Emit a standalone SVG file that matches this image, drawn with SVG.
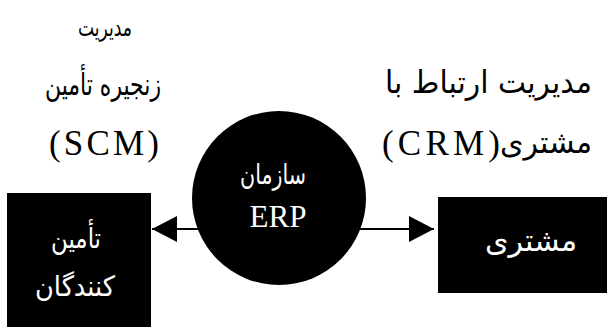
<svg xmlns="http://www.w3.org/2000/svg" width="607" height="327" viewBox="0 0 607 327">
<style>
.fa{font-family:"DejaVu Sans",sans-serif;}
.lat{font-family:"Liberation Serif",serif;}
.lbl{fill:#000;}
.in{fill:#fff;}
.node{fill:#000;}
.conn{stroke:#000;stroke-width:2;fill:none;}
</style>
<defs>
<marker id="ah" markerUnits="userSpaceOnUse" viewBox="0 0 25 26" refX="25" refY="13" markerWidth="25" markerHeight="26" orient="auto">
<path d="M0,0 L25,13 L0,26 z" fill="#000"/>
</marker>
</defs>
<rect width="607" height="327" fill="#fff"/>
<g id="labels">
<text class="fa lbl" x="105" y="36" font-size="25" text-anchor="middle" direction="rtl" textLength="54" lengthAdjust="spacingAndGlyphs">مدیریت</text>
<text class="fa lbl" x="103" y="95" font-size="30" text-anchor="middle" direction="rtl" textLength="116" lengthAdjust="spacingAndGlyphs">زنجیره تأمین</text>
<text class="lat lbl" x="104" y="155" font-size="35" textLength="110" lengthAdjust="spacing" text-anchor="middle">(SCM)</text>
<text class="fa lbl" x="592" y="93" font-size="31" text-anchor="start" direction="rtl" textLength="207" lengthAdjust="spacingAndGlyphs">مدیریت ارتباط با</text>
<text class="fa lbl" x="592" y="153" font-size="31" text-anchor="start" direction="rtl" textLength="92" lengthAdjust="spacingAndGlyphs">مشتری</text>
<text class="lat lbl" x="500" y="155" font-size="35" textLength="118" lengthAdjust="spacing" text-anchor="end">(CRM)</text>
</g>
<g id="connectors">
<line class="conn" x1="200" y1="229" x2="152" y2="229" marker-end="url(#ah)"/>
<line class="conn" x1="358" y1="229" x2="434" y2="229" marker-end="url(#ah)"/>
</g>
<g id="erp">
<circle class="node" cx="279" cy="198" r="87"/>
<text class="fa in" x="273" y="184" font-size="28" text-anchor="middle" direction="rtl" textLength="66" lengthAdjust="spacingAndGlyphs">سازمان</text>
<text class="lat in" x="278" y="227" font-size="31" text-anchor="middle">ERP</text>
</g>
<g id="suppliers">
<rect class="node" x="7" y="193" width="144" height="134"/>
<text class="fa in" x="76" y="248" font-size="28" text-anchor="middle" direction="rtl" textLength="50" lengthAdjust="spacingAndGlyphs">تأمین</text>
<text class="fa in" x="75" y="296" font-size="28" text-anchor="middle" direction="rtl" textLength="80" lengthAdjust="spacingAndGlyphs">کنندگان</text>
</g>
<g id="customer">
<rect class="node" x="438" y="197" width="169" height="96"/>
<text class="fa in" x="531" y="251" font-size="30" text-anchor="middle" direction="rtl" textLength="92" lengthAdjust="spacingAndGlyphs">مشتری</text>
</g>
</svg>
